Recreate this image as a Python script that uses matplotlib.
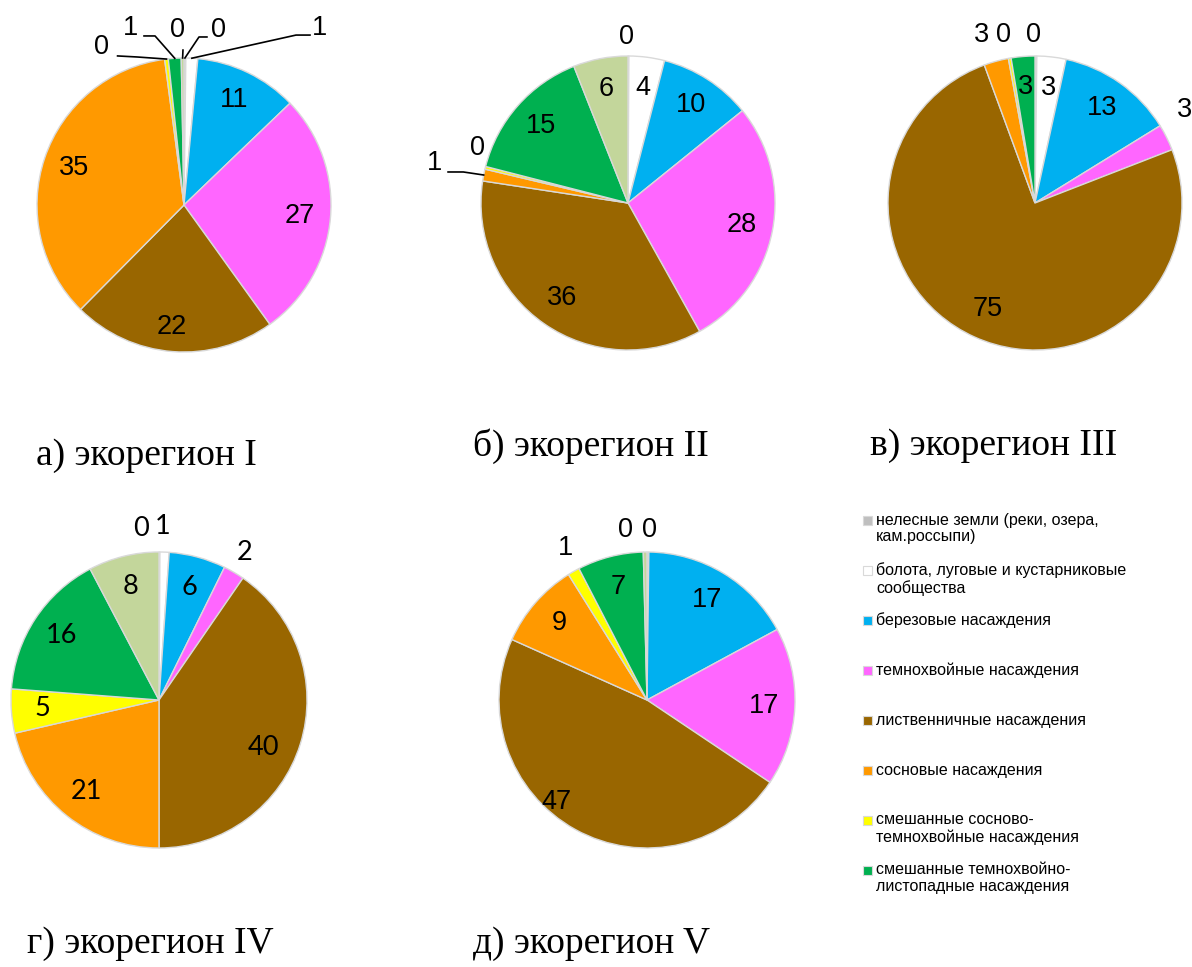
import numpy as np
import matplotlib.pyplot as plt
from matplotlib.patches import Rectangle

W, H = 1192, 967

# legend categories (order of slices, clockwise from the top)
categories = [
    'нелесные земли (реки, озера,\nкам.россыпи)',
    'болота, луговые и кустарниковые\nсообщества',
    'березовые насаждения',
    'темнохвойные насаждения',
    'лиственничные насаждения',
    'сосновые насаждения',
    'смешанные сосново-\nтемнохвойные насаждения',
    'смешанные темнохвойно-\nлистопадные насаждения',
]
colors = ['#BFBFBF', '#FFFFFF', '#00B0F0', '#FF66FF', '#996600',
          '#FF9900', '#FFFF00', '#00B050', '#C3D69B']

# shares, %, per ecoregion (last value - olive slice without legend entry)
region_I = [0.2, 1.3, 11.3, 27.2, 22.3, 35.4, 0.4, 1.4, 0.3]
region_II = [0.1, 3.9, 10.2, 27.7, 35.5, 1.3, 0.3, 15.0, 6.0]
region_III = [0.2, 3.2, 12.8, 2.9, 75.3, 2.7, 0.3, 2.6, 0]
region_IV = [0.1, 1.0, 6.2, 2.3, 40.4, 21.4, 4.8, 16.1, 7.7]
region_V = [0.2, 0, 16.9, 17.3, 47.3, 9.4, 1.3, 7.2, 0.4]

titles = ['а) экорегион I', 'б) экорегион II', 'в) экорегион III',
          'г) экорегион IV', 'д) экорегион V']

# pie layout in pixels: centre x, centre y, radius
pies = [
    (region_I, (184, 205, 147), (36, 456), 'Liberation Sans'),
    (region_II, (628, 203, 147), (473, 446), 'Liberation Sans'),
    (region_III, (1035, 203, 147), (870, 446), 'Liberation Sans'),
    (region_IV, (159, 700, 148), (27, 944), 'Lato'),
    (region_V, (647, 700, 148), (473, 944), 'Liberation Sans'),
]

# labels placed outside the pie: slice index -> (x, y, leader line start, elbow)
outside = [
    {6: (-0.558, 1.075, (-0.452, 1.014), (-0.32, 1.007)),
     7: (-0.367, 1.204, (-0.272, 1.150), (-0.197, 1.150)),
     8: (-0.041, 1.190, (-0.007, 1.054), (-0.007, 1.054)),
     0: (0.238, 1.190, (0.156, 1.143), (0.102, 1.143)),
     1: (0.925, 1.204, (0.857, 1.156), (0.762, 1.156))},
    {0: (-0.007, 1.129, None, None),
     5: (-1.313, 0.272, (-1.224, 0.211), (-1.12, 0.211)),
     6: (-1.027, 0.374, None, None)},
    {5: (-0.361, 1.143, None, None),
     6: (-0.211, 1.143, None, None),
     0: (-0.007, 1.143, None, None),
     3: (1.018, 0.633, None, None)},
    {0: (-0.122, 1.162, None, None),
     1: (0.027, 1.169, None, None),
     3: (0.581, 1.0, None, None)},
    {6: (-0.554, 1.027, None, None),
     8: (-0.142, 1.149, None, None),
     0: (0.014, 1.149, None, None)},
]

# inside labels moved off the default radius
shifted = [
    {4: (-0.08, -0.83)},
    {},
    {},
    {4: (0.703, -0.318)},
    {4: (-0.615, -0.689)},
]

fig = plt.figure(figsize=(W / 100, H / 100), dpi=100)

for k, (vals, (cx, cy, r), (tx, ty), font) in enumerate(pies):
    ax = fig.add_axes([(cx - r) / W, 1 - (cy + r) / H, 2 * r / W, 2 * r / H])
    idx = [i for i, v in enumerate(vals) if v > 0]
    wedges, _ = ax.pie([vals[i] for i in idx],
                       colors=[colors[i] for i in idx],
                       startangle=90, counterclock=False, radius=1,
                       wedgeprops=dict(edgecolor='#D9D9D9', linewidth=1))
    ax.set_xlim(-1, 1)
    ax.set_ylim(-1, 1)
    ax.axis('off')
    for i, w in zip(idx, wedges):
        txt = f'{vals[i]:.0f}'
        mid = np.deg2rad((w.theta1 + w.theta2) / 2)
        if i in outside[k]:
            lx, ly, start, elbow = outside[k][i]
            ax.text(lx, ly, txt, ha='center', va='center', fontsize=19.5,
                    family=font, clip_on=False)
            if start is not None:
                ex, ey = np.cos(mid), np.sin(mid)
                ax.plot([start[0], elbow[0], ex], [start[1], elbow[1], ey],
                        color='black', lw=1.2, clip_on=False)
        else:
            lx, ly = shifted[k].get(i, (0.79 * np.cos(mid), 0.79 * np.sin(mid)))
            ax.text(lx, ly, txt, ha='center', va='center', fontsize=19.5,
                    family=font)
    fig.text(tx / W, 1 - ty / H, titles[k], ha='left', va='center',
             fontsize=27, family='Liberation Serif')

# legend
for i, name in enumerate(categories):
    y = 520.5 + i * 50
    fig.patches.append(Rectangle((863 / W, 1 - (y + 4.5) / H), 9 / W, 9 / H,
                                 transform=fig.transFigure, facecolor=colors[i],
                                 edgecolor='#D9D9D9', linewidth=0.8))
    fig.text(876 / W, 1 - (y - 8) / H, name, ha='left', va='top',
             fontsize=11.5, family='Liberation Sans', linespacing=1.15)

fig.savefig('out.png', dpi=100, facecolor='white')
